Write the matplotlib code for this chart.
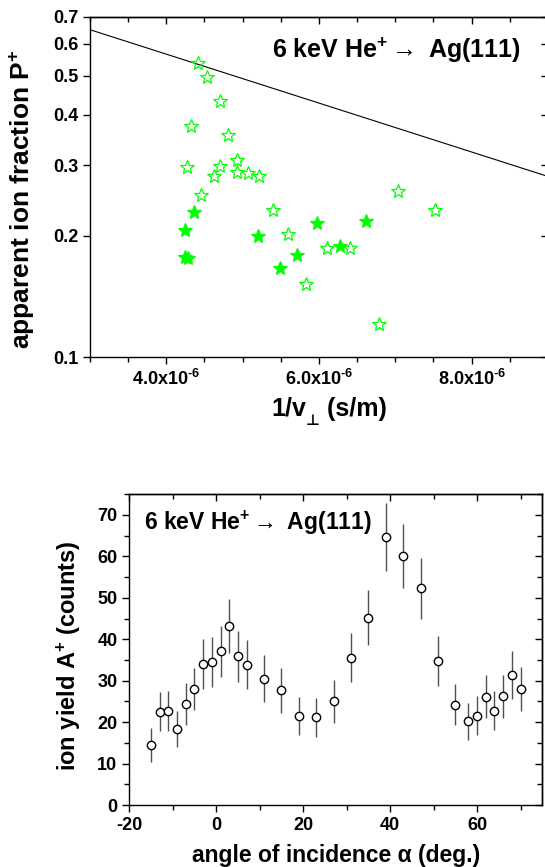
import numpy as np
import matplotlib
matplotlib.use('Agg')
import matplotlib.pyplot as plt
from matplotlib.ticker import FixedLocator, MultipleLocator, NullLocator

plt.rcParams['font.family'] = ['Liberation Sans', 'DejaVu Sans']
plt.rcParams['font.weight'] = 'bold'
plt.rcParams['mathtext.fontset'] = 'custom'
plt.rcParams['mathtext.rm'] = 'Liberation Sans:bold'
plt.rcParams['mathtext.it'] = 'Liberation Sans:bold'
plt.rcParams['mathtext.bf'] = 'Liberation Sans:bold'

# ---------------------------------------------------------------------------
# Data: top panel (ion fraction vs 1/v_perp)
# ---------------------------------------------------------------------------
open_x = [4.41e-6, 4.53e-6, 4.70e-6, 4.32e-6, 4.81e-6, 4.27e-6, 4.70e-6,
          4.92e-6, 4.62e-6, 4.92e-6, 5.07e-6, 5.22e-6, 4.46e-6, 7.03e-6,
          5.40e-6, 7.52e-6, 5.59e-6, 6.10e-6, 6.41e-6, 5.83e-6, 6.78e-6]
open_y = [0.536, 0.497, 0.433, 0.374, 0.356, 0.296, 0.298,
          0.308, 0.281, 0.288, 0.287, 0.282, 0.253, 0.259,
          0.232, 0.232, 0.202, 0.187, 0.187, 0.152, 0.121]

filled_x = [4.36e-6, 4.25e-6, 4.25e-6, 4.28e-6, 5.20e-6, 5.49e-6,
            5.71e-6, 5.97e-6, 6.27e-6, 6.61e-6]
filled_y = [0.229, 0.207, 0.177, 0.176, 0.200, 0.167,
            0.179, 0.216, 0.189, 0.218]

fit_x = [3.0e-6, 9.0e-6]
fit_y = [0.650, 0.281]

top_yticks = [0.1, 0.2, 0.3, 0.4, 0.5, 0.6, 0.7]
top_xticks = [4e-6, 6e-6, 8e-6]
top_xlabels = [r'4.0x10$^{\text{-6}}$', r'6.0x10$^{\text{-6}}$',
               r'8.0x10$^{\text{-6}}$']

# ---------------------------------------------------------------------------
# Data: bottom panel (ion yield vs angle of incidence)
# ---------------------------------------------------------------------------
angle = [-15, -13, -11, -9, -7, -5, -3, -1, 1, 3, 5, 7, 11, 15, 19, 23, 27,
         31, 35, 39, 43, 47, 51, 55, 58, 60, 62, 64, 66, 68, 70]
yield_a = [14.5, 22.5, 22.6, 18.3, 24.4, 28.0, 34.1, 34.6, 37.1, 43.2, 35.9,
           33.9, 30.5, 27.7, 21.4, 21.2, 25.0, 35.6, 45.2, 64.7, 60.1, 52.3,
           34.7, 24.2, 20.2, 21.5, 26.1, 22.8, 26.3, 31.4, 28.0]
yield_err = [4.0, 4.7, 4.8, 4.4, 5.0, 5.0, 6.0, 6.0, 6.2, 6.6, 6.1,
             6.0, 5.7, 5.4, 4.6, 4.7, 5.1, 6.0, 6.7, 8.2, 7.8, 7.3,
             6.0, 5.0, 4.5, 4.7, 5.2, 4.8, 5.2, 5.8, 5.3]

GREEN = '#00ff00'

fig = plt.figure(figsize=(5.45, 8.67), dpi=100)


def mirror_ticks(ax):
    # Origin style: outward ticks bottom/left, inward ticks on top/right
    ax.tick_params(which='both', direction='out', width=1.0, labelsize=13)
    ax.tick_params(which='major', length=5)
    ax.tick_params(which='minor', length=3.5)
    top = ax.secondary_xaxis('top')
    right = ax.secondary_yaxis('right')
    top.set_xticks(ax.get_xticks(), labels=[])
    top.set_xticks(ax.get_xticks(minor=True), minor=True)
    right.set_yticks(ax.get_yticks(), labels=[])
    right.set_yticks(ax.get_yticks(minor=True), minor=True)
    for sec in (top, right):
        sec.tick_params(which='both', direction='in', width=1.0)
        sec.tick_params(which='major', length=5)
        sec.tick_params(which='minor', length=3.5)
        for s in sec.spines.values():
            s.set_linewidth(1.0)


# --- top panel -------------------------------------------------------------
ax1 = fig.add_axes([0.1651, 0.5879, 0.8404, 0.3928])
ax1.set_yscale('log')
ax1.plot(fit_x, fit_y, color='black', lw=0.8)
ax1.plot(open_x, open_y, ls='none', marker='*', ms=10, mfc='none',
         mec=GREEN, mew=0.9)
ax1.plot(filled_x, filled_y, ls='none', marker='*', ms=10, mfc=GREEN,
         mec=GREEN, mew=0.9)
ax1.set_xlim(3e-6, 9e-6)
ax1.set_ylim(0.1, 0.7)
ax1.xaxis.set_major_locator(FixedLocator(top_xticks))
ax1.set_xticklabels(top_xlabels)
ax1.xaxis.set_minor_locator(MultipleLocator(0.5e-6))
ax1.yaxis.set_major_locator(FixedLocator(top_yticks))
ax1.yaxis.set_minor_locator(NullLocator())
ax1.set_yticklabels([f'{v:.1f}' for v in top_yticks])
for s in ax1.spines.values():
    s.set_linewidth(1.0)
mirror_ticks(ax1)

# x label "1/v⊥ (s/m)" built from pieces so the ⊥ comes from DejaVu Sans
xl1 = ax1.text(0.395, -0.172, '1/v', transform=ax1.transAxes, ha='left',
               va='baseline', fontsize=18, fontweight='bold')
xl2 = ax1.annotate('\u22a5', xy=(1.0, 0.0), xycoords=xl1, ha='left',
                   va='center', fontsize=11, fontweight='bold',
                   family='DejaVu Sans')
ax1.annotate(' (s/m)', xy=(1.0, 0.0), xycoords=(xl2, xl1), ha='left',
             va='bottom', fontsize=18, fontweight='bold')

ax1.set_ylabel('apparent ion fraction P$^{+}$', fontsize=19,
               fontweight='bold')
ax1.yaxis.set_label_coords(-0.116, 0.465)
ax1.text(0.941, 0.902, r'6 keV He$^{+}\rightarrow$ Ag(111)',
         transform=ax1.transAxes, ha='right', va='center', fontsize=18,
         fontweight='bold')

# --- bottom panel ----------------------------------------------------------
ax2 = fig.add_axes([0.2372, 0.0715, 0.7578, 0.3584])
ax2.errorbar(angle, yield_a, yerr=yield_err, fmt='o', ms=6, mfc='white',
             mec='black', mew=1.0, ecolor='#505050', elinewidth=1.0,
             capsize=0, zorder=3)
ax2.set_xlim(-20, 75)
ax2.set_ylim(0, 75)
ax2.xaxis.set_major_locator(MultipleLocator(20))
ax2.xaxis.set_minor_locator(MultipleLocator(10))
ax2.yaxis.set_major_locator(MultipleLocator(10))
ax2.yaxis.set_minor_locator(MultipleLocator(5))
ax2.xaxis.set_major_formatter(lambda v, pos: f'{v:.0f}'.replace('\u2212', '-'))
for s in ax2.spines.values():
    s.set_linewidth(1.0)
mirror_ticks(ax2)
ax2.set_xlabel('angle of incidence α (deg.)', fontsize=16.5,
               fontweight='bold')
ax2.set_ylabel('ion yield A$^{+}$ (counts)', fontsize=17,
               fontweight='bold')
ax2.xaxis.set_label_coords(0.5, -0.125)
ax2.yaxis.set_label_coords(-0.111, 0.48)
ax2.text(0.036, 0.908, r'6 keV He$^{+}\rightarrow$ Ag(111)',
         transform=ax2.transAxes, ha='left', va='center', fontsize=16.5,
         fontweight='bold')

fig.savefig('out.png', dpi=100)
